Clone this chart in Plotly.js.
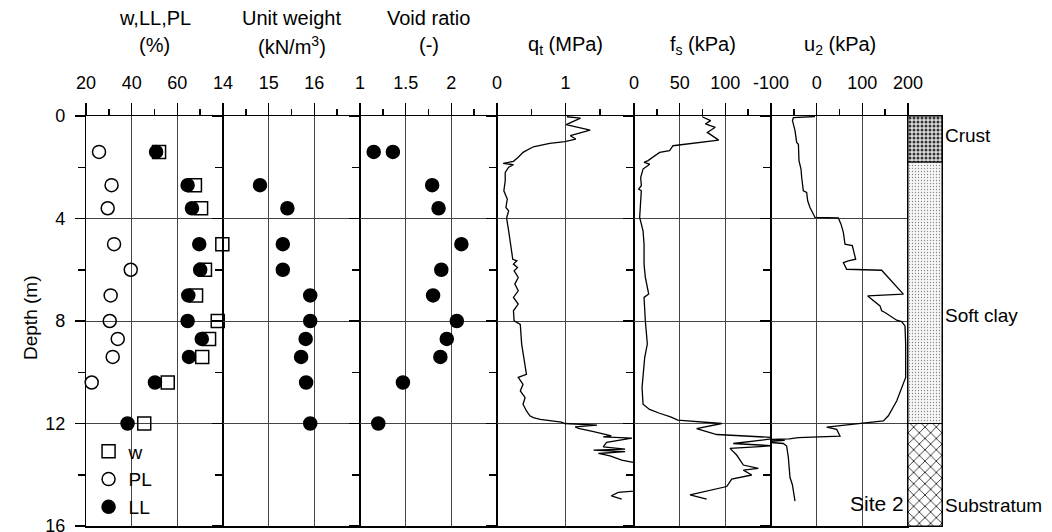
<!DOCTYPE html>
<html>
<head>
<meta charset="utf-8">
<script src="https://cdn.plot.ly/plotly-3.0.1.min.js"></script>
<style>
  body { margin: 0; background: #fff; }
  #plot { width: 1052px; height: 532px; }
</style>
</head>
<body>
<div id="plot"></div>
<script>
// lab test results (depth in m)
var labDepth = [1.4, 2.7, 3.6, 5.0, 6.0, 7.0, 8.0, 8.7, 9.4, 10.4, 12.0];
var wc = [52, 67.7, 70.4, 79.7, 72.1, 68.2, 77.7, 73.9, 70.9, 55.8, 45.5];
var pl = [25.7, 31.2, 29.5, 32.3, 39.6, 30.8, 30.4, 33.9, 31.7, 22.5, 19.3];
var ll = [50.7, 64.5, 66.4, 69.6, 70.0, 64.8, 64.5, 70.7, 65.1, 50.2, 38.2];

var gammaDepth = [2.7, 3.6, 5.0, 6.0, 7.0, 8.0, 8.7, 9.4, 10.4, 12.0];
var gamma = [14.81, 15.41, 15.31, 15.31, 15.91, 15.91, 15.81, 15.71, 15.82, 15.91];

var voidDepth = [1.4, 1.4, 2.7, 3.6, 5.0, 6.0, 7.0, 8.0, 8.7, 9.4, 10.4, 12.0];
var voidRatio = [1.15, 1.36, 1.79, 1.86, 2.11, 1.89, 1.80, 2.06, 1.95, 1.88, 1.47, 1.20];

// CPTU profile
var qtDepth = [0.03,0.08,0.34,0.55,0.77,0.9,1.0,1.07,1.2,1.42,1.61,1.77,1.85,1.9,2.0,2.2,2.53,2.92,3.24,3.57,3.7,3.98,4.48,5.0,5.59,5.65,5.78,5.91,6.04,6.3,6.56,6.82,7.08,7.34,7.6,7.99,8.13,8.9,9.69,10.08,10.2,10.47,10.73,10.99,11.25,11.51,11.7,11.77,11.84,11.95,12.0,12.06,12.13,12.19,12.32,12.48,12.52,12.57,12.74,12.91,13.0,13.04,13.1,13.17,13.26,13.43,13.52,13.8,14.2,14.5,14.64,14.69,14.82,14.95];
var qt = [1.02,1.22,1.01,1.36,1.07,1.15,0.99,0.77,0.53,0.38,0.31,0.24,0.09,0.24,0.17,0.12,0.12,0.10,0.15,0.13,0.17,0.14,0.17,0.20,0.23,0.29,0.24,0.30,0.25,0.31,0.26,0.31,0.24,0.31,0.24,0.25,0.34,0.36,0.41,0.43,0.31,0.38,0.34,0.41,0.38,0.43,0.48,0.53,0.63,0.94,0.99,1.46,1.14,1.19,1.41,1.67,1.55,1.97,1.60,1.55,1.87,1.41,1.87,1.48,1.65,1.82,1.99,2.4,2.6,2.3,1.99,1.77,1.67,1.82];

var fsDepth = [0.03,0.18,0.31,0.44,0.64,0.94,1.16,1.35,1.42,1.61,1.74,1.81,1.88,2.07,2.4,2.72,2.85,2.92,3.31,3.96,4.48,5.0,5.78,6.3,6.95,7.08,7.99,8.9,9.43,10.08,10.6,11.25,11.45,11.6,11.74,11.87,12.0,12.2,12.43,12.56,12.78,12.87,12.97,13.23,13.62,13.75,13.82,14.01,14.17,14.46,14.79,14.95];
var fs = [74.5,83.9,78.1,89.0,80.3,92.7,42.7,39.0,28.1,20.8,15.3,11.0,17.2,9.9,7.3,8.0,5.1,8.0,7.3,6.2,9.9,11.0,11.0,12.4,16.1,11.0,12.4,14.6,11.7,9.9,8.8,9.9,17.0,28.0,40.0,48.0,96.0,68.6,90.5,160,108.7,152.5,105.1,112.4,119.7,136.1,119.7,128.9,107.0,101.5,61.3,79.6];

var u2Depth = [0.02,0.06,0.18,0.57,1.03,1.1,1.74,2.07,2.4,2.92,2.98,3.31,3.57,3.7,3.93,3.96,3.98,4.22,4.54,5.0,5.06,5.59,5.65,5.72,5.98,6.02,6.95,7.02,7.41,7.6,7.67,7.84,7.97,8.02,8.19,8.9,10.2,11.12,11.7,11.9,12.0,12.14,12.23,12.49,12.55,12.6,12.63,12.66,12.72,12.78,12.88,13.33,14.11,14.38,15.03];
var u2 = [-3.6,-51,-53,-47.4,-43.8,-40,-38.7,-34.3,-32.8,-29.2,-21.9,-19.7,-14.6,-11,-5.1,-3.6,47.4,53.3,58.4,62,78,85.4,69.3,58.4,65.7,142.3,189.8,111.7,138.7,142.3,149.6,164.2,175.2,186.1,193.4,194.9,194.9,175.2,157,146,98.5,21.9,43.8,51.1,-40,-60,-115,-70,-115,-73,-65.7,-62,-58.4,-53.3,-47.4];

// soil column
var layerNames = ['Crust', 'Soft clay', 'Substratum'];
var layerTop = [0, 1.8, 12];
var layerBottom = [1.8, 12, 16];
var layerLabelDepth = [0.75, 7.8, 15.2];

// panel headings and ticks
var headLine1 = ['w,LL,PL', 'Unit weight', 'Void ratio', '', '', ''];
var headLine2 = ['(%)', '(kN/m<sup>3</sup>)', '(-)', 'q<sub>t</sub> (MPa)', 'f<sub>s</sub> (kPa)', 'u<sub>2</sub> (kPa)'];
var xRanges = [[20, 80], [14, 17], [1, 2.5], [0, 2], [0, 150], [-100, 200]];
var xTicks = [[20, 40, 60], [14, 15, 16], [1, 1.5, 2], [0, 1], [0, 50, 100], [-100, 0, 100, 200]];
var xTickText = [['20', '40', '60'], ['14', '15', '16'], ['1', '1.5', '2'], ['0', '1'], ['0', '50', '100'], ['-100', '0', '100', '200']];
var xMinor = [10, 0.5, 0.25, 0.5, 25, 50];
var depthTicks = [0, 4, 8, 12, 16];

var font = 'Liberation Sans, Arial, Helvetica, sans-serif';
var left = 86, right = 942, total = right - left;
var edges = [86, 223, 360, 497, 634, 771, 908, 942];
function dom(i) { return [(edges[i] - left) / total, (edges[i + 1] - left) / total]; }

var traces = [];
function pts(xa, ya, x, y, extra) {
  var t = { x: x, y: y, xaxis: xa, yaxis: ya, type: 'scatter', mode: 'markers',
    showlegend: false, cliponaxis: false,
    marker: { size: 13, color: 'black', line: { color: 'black', width: 1.5 } } };
  for (var k in extra) t[k] = extra[k];
  return t;
}
traces.push(pts('x', 'y', wc, labDepth, { name: 'w', showlegend: true,
  marker: { symbol: 'square-open', size: 13, color: 'black', line: { width: 1.5 } } }));
traces.push(pts('x', 'y', pl, labDepth, { name: 'PL', showlegend: true,
  marker: { symbol: 'circle-open', size: 13, color: 'black', line: { width: 1.5 } } }));
traces.push(pts('x', 'y', ll, labDepth, { name: 'LL', showlegend: true }));
traces.push(pts('x2', 'y2', gamma, gammaDepth, {}));
traces.push(pts('x3', 'y3', voidRatio, voidDepth, {}));

function line(xa, ya, x, y) {
  return { x: x, y: y, xaxis: xa, yaxis: ya, type: 'scatter', mode: 'lines',
    showlegend: false, line: { color: 'black', width: 1.3 } };
}
traces.push(line('x4', 'y4', qt, qtDepth));
traces.push(line('x5', 'y5', fs, fsDepth));
traces.push(line('x6', 'y6', u2, u2Depth));

var patterns = [
  { shape: '.', size: 4, solidity: 0.45, fgcolor: '#333', bgcolor: '#ddd' },
  { shape: '.', size: 3, solidity: 0.15, fgcolor: '#888', bgcolor: '#f6f6f6' },
  { shape: 'x', size: 8, solidity: 0.18, fgcolor: '#000', bgcolor: '#fff' }
];
for (var i = 0; i < layerNames.length; i++) {
  traces.push({ type: 'bar', x: [0], y: [layerBottom[i] - layerTop[i]], base: [layerTop[i]],
    width: 1, xaxis: 'x7', yaxis: 'y7', showlegend: false, name: layerNames[i],
    marker: { color: '#fff', pattern: patterns[i], line: { color: 'black', width: 1 } } });
}

var layout = {
  width: 1052, height: 532,
  margin: { l: left, r: 1052 - right, t: 116, b: 6, autoexpand: false },
  paper_bgcolor: '#fff', plot_bgcolor: 'rgba(0,0,0,0)',
  font: { family: font, size: 18, color: 'black' },
  showlegend: true,
  legend: { x: 0.003, y: 0.228, xanchor: 'left', yanchor: 'top', bgcolor: 'rgba(0,0,0,0)',
    font: { size: 19 }, tracegroupgap: 0 },
  barmode: 'overlay',
  bargap: 0,
  annotations: []
};

for (var p = 0; p < 6; p++) {
  var n = p === 0 ? '' : String(p + 1);
  layout['xaxis' + n] = {
    domain: dom(p), range: xRanges[p], side: 'top', anchor: 'y' + n,
    tickmode: 'array', tickvals: xTicks[p], ticktext: xTickText[p], ticks: 'outside', ticklen: 12, tickwidth: 1.5,
    tickcolor: 'black', ticklabelstandoff: 6, ticklabeloverflow: 'allow', tickfont: { size: 18 },
    minor: { dtick: xMinor[p], tick0: 0, ticks: 'outside', ticklen: 6, tickwidth: 1.5, tickcolor: 'black', showgrid: false },
    showgrid: true, gridcolor: '#444', gridwidth: 1, zeroline: false,
    showline: true, linecolor: 'black', linewidth: 1.5, mirror: true, fixedrange: true
  };
  layout['yaxis' + n] = {
    domain: [0, 1], range: [16, 0], anchor: 'x' + n,
    tickmode: 'array', tickvals: depthTicks, ticks: 'outside', ticklen: 10, tickwidth: 1.5,
    tickcolor: 'black', showticklabels: p === 0, ticklabelstandoff: 6, ticklabeloverflow: 'allow', tickfont: { size: 18 },
    minor: { dtick: 2, tick0: 0, ticks: 'outside', ticklen: 7, tickwidth: 1.5, tickcolor: 'black', showgrid: false },
    showgrid: true, gridcolor: '#444', gridwidth: 1, zeroline: false,
    showline: true, linecolor: 'black', linewidth: 1.2, mirror: true, fixedrange: true
  };
  if (headLine1[p]) {
    layout.annotations.push({ xref: 'x' + n + ' domain', yref: 'paper', x: 0.5, y: (526 - 18) / 410,
      text: headLine1[p], showarrow: false, xanchor: 'center', yanchor: 'middle', font: { size: 20 } });
  }
  layout.annotations.push({ xref: 'x' + n + ' domain', yref: 'paper', x: 0.5, y: (526 - 45) / 410,
    text: headLine2[p], showarrow: false, xanchor: 'center', yanchor: 'middle', font: { size: 20 } });
}

layout.xaxis7 = { domain: dom(6), range: [-0.5, 0.5], anchor: 'y7', showticklabels: false,
  ticks: '', showgrid: false, zeroline: false, showline: true, linecolor: 'black', linewidth: 1, mirror: true, fixedrange: true };
layout.yaxis7 = { domain: [0, 1], range: [16, 0], anchor: 'x7', showticklabels: false,
  ticks: '', showgrid: false, zeroline: false, showline: true, linecolor: 'black', linewidth: 1, mirror: true, fixedrange: true };

for (var j = 0; j < layerNames.length; j++) {
  layout.annotations.push({ xref: 'paper', yref: 'y7', x: 1.0, y: layerLabelDepth[j], xshift: 1,
    text: layerNames[j], showarrow: false, xanchor: 'left', yanchor: 'middle', font: { size: 19 } });
}
layout.annotations.push({ xref: 'paper', yref: 'paper', x: (906 - left) / total, y: (526 - 503) / 410,
  text: 'Site 2', showarrow: false, xanchor: 'right', yanchor: 'middle', font: { size: 21 } });
layout.annotations.push({ xref: 'paper', yref: 'paper', x: (30 - left) / total, y: (526 - 318) / 410,
  text: 'Depth (m)', textangle: -90, showarrow: false, xanchor: 'center', yanchor: 'middle', font: { size: 19 } });

Plotly.newPlot('plot', traces, layout, { staticPlot: true });
</script>
</body>
</html>
